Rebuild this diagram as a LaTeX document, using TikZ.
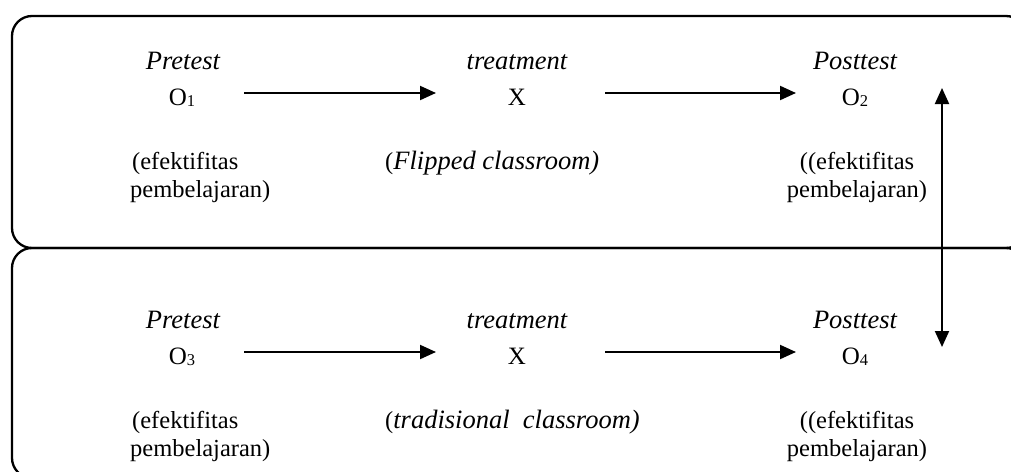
\documentclass[tikz,border=0pt]{standalone}
\usepackage{fontspec}
\setmainfont{Liberation Serif}
\usetikzlibrary{arrows.meta}
\tikzset{
  lab/.style={font=\fontsize{26.5}{29}\selectfont\itshape, anchor=base, inner sep=0pt},
  sym/.style={font=\fontsize{25}{29}\selectfont, anchor=base, inner sep=0pt},
  desc/.style={font=\fontsize{24.5}{28}\selectfont, align=center, anchor=base, inner sep=0pt},
  descl/.style={font=\fontsize{24.5}{28}\selectfont, align=left, anchor=base west, inner sep=0pt},
  arr/.style={line width=2pt, -{Triangle[length=16pt,width=14pt]}},
  darr/.style={line width=2pt, {Triangle[length=16pt,width=14pt]}-{Triangle[length=16pt,width=14pt]}},
  frame/.style={line width=2.3pt, rounded corners=20pt}
}
\newcommand{\subnum}[1]{{\fontsize{16.5}{16.5}\selectfont\raisebox{-1pt}{#1}}}
\newcommand{\itbig}[1]{{\fontsize{26.5}{28}\selectfont\itshape #1}}
\begin{document}
\begin{tikzpicture}[x=1pt,y=-1pt]
\useasboundingbox (0,0) rectangle (1011,471);
\begin{scope}
\clip (0,0) rectangle (1011,471);
\draw[frame] (12,16) rectangle (1026,248);
\draw[frame] (12,248) rectangle (1026,478);
\end{scope}
% top row
\node[lab] (pre1) at (183,69) {Pretest};
\node[lab] (tr1) at (517,69) {treatment};
\node[lab] (post1) at (855,69) {Posttest};
\node[sym] (O1) at (182,105) {O\subnum{1}};
\node[sym] (X1) at (517,105) {X};
\node[sym] (O2) at (855,105) {O\subnum{2}};
\node[descl] (d1) at (130,197) {\hspace{2pt}(efektifitas\\pembelajaran)};
\node[descl] (d2) at (385,169) {(\itbig{Flipped classroom)}};
\node[desc] (d3) at (857,197) {((efektifitas\\pembelajaran)};
% bottom row
\node[lab] (pre2) at (183,328) {Pretest};
\node[lab] (tr2) at (517,328) {treatment};
\node[lab] (post2) at (855,328) {Posttest};
\node[sym] (O3) at (182,364) {O\subnum{3}};
\node[sym] (X2) at (517,364) {X};
\node[sym] (O4) at (855,364) {O\subnum{4}};
\node[descl] (d4) at (130,456) {\hspace{2pt}(efektifitas\\pembelajaran)};
\node[descl] (d5) at (385,428) {(\itbig{tradisional\ \ classroom)}};
\node[desc] (d6) at (857,456) {((efektifitas\\pembelajaran)};
% arrows
\draw[arr] ([shift={(62,-12)}]O1.base) -- ([shift={(-81,-12)}]X1.base);
\draw[arr] ([shift={(88,-12)}]X1.base) -- ([shift={(-59,-12)}]O2.base);
\draw[arr] ([shift={(62,-12)}]O3.base) -- ([shift={(-81,-12)}]X2.base);
\draw[arr] ([shift={(88,-12)}]X2.base) -- ([shift={(-59,-12)}]O4.base);
\draw[darr] ([shift={(87,-17)}]O2.base) -- ([shift={(87,-17)}]O4.base);
\end{tikzpicture}
\end{document}
